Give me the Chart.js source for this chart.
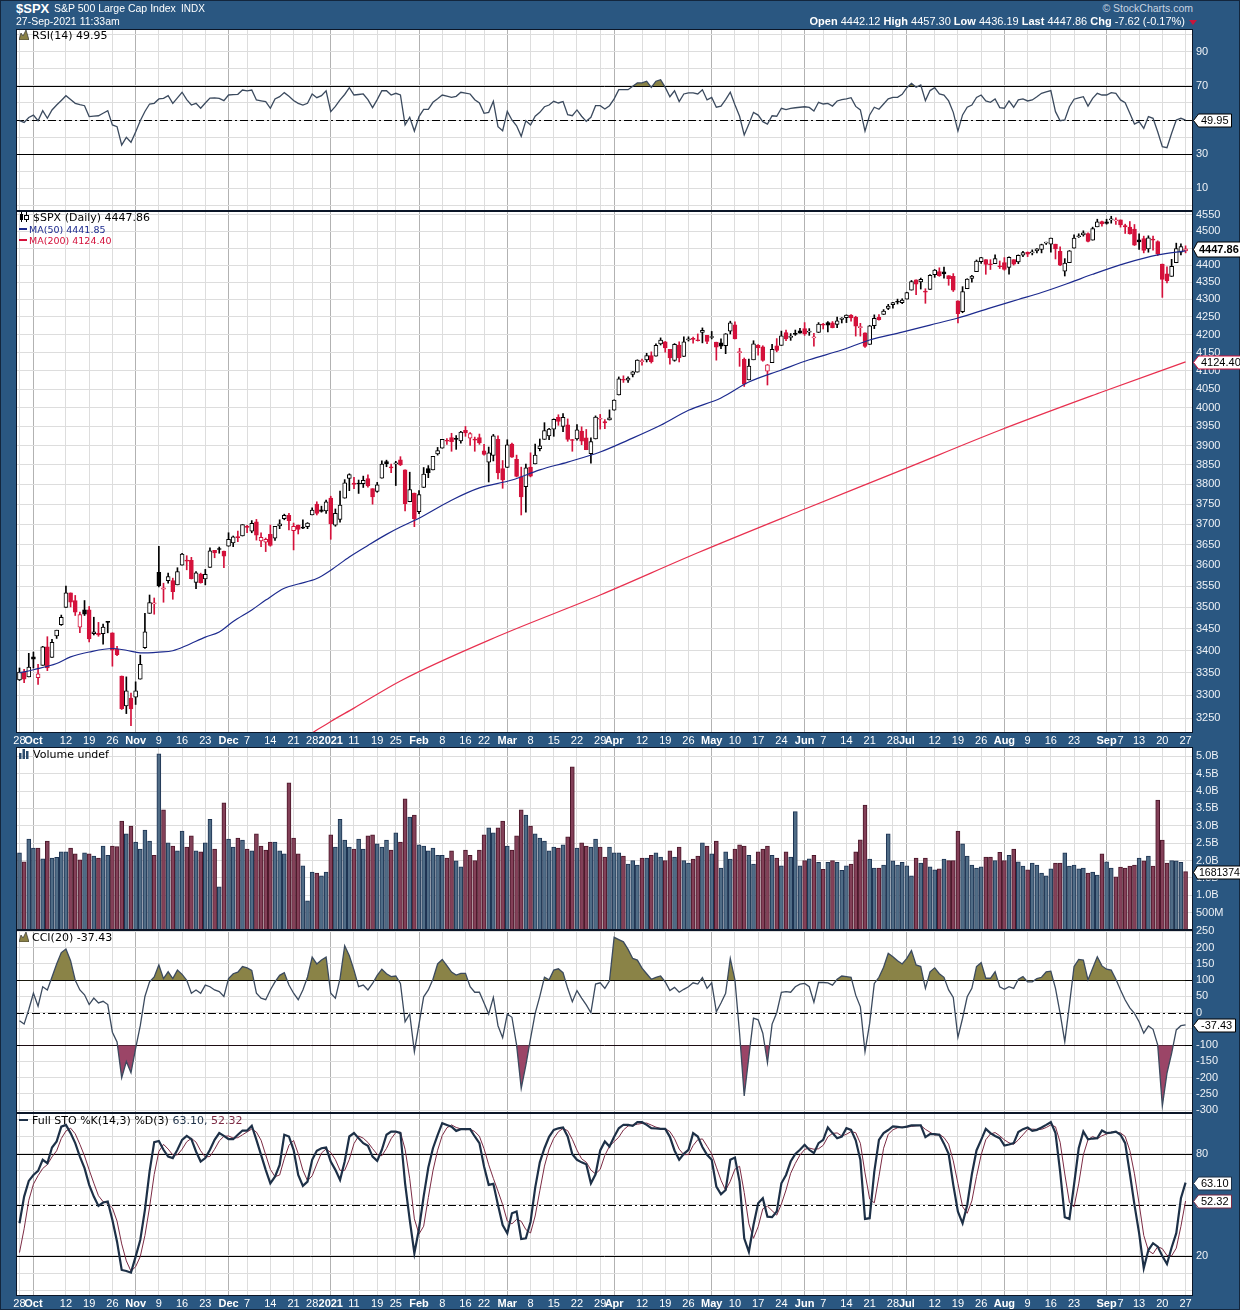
<!DOCTYPE html>
<html>
<head>
<meta charset="utf-8">
<title>$SPX Daily</title>
<script src="https://cdn.jsdelivr.net/npm/chart.js@4.4.1/dist/chart.umd.min.js"></script>
<style>
html, body { margin: 0; padding: 0; }
body { position: relative; width: 1240px; height: 1310px; overflow: hidden; background: #2a5781; font-family: "Liberation Sans", Arial, sans-serif; }
#frame { position: absolute; left: 0; top: 0; width: 1238px; height: 1308px; border: 1px solid #13263d; }
canvas { position: absolute; left: 0; }
.hd { position: absolute; white-space: nowrap; color: #fff; line-height: 1; }
.lg { position: absolute; white-space: nowrap; font: 11px "DejaVu Sans", sans-serif; color: #000; line-height: 11px; }
.lg svg { vertical-align: -1px; margin-right: 3px; }
</style>
</head>
<body>
<div id="frame"></div>
<canvas id="rsiChart" width="1240" height="198" style="top:21px;width:1240px;height:198px"></canvas>
<canvas id="priceChart" width="1240" height="545" style="top:203px;width:1240px;height:545px"></canvas>
<canvas id="volChart" width="1240" height="199" style="top:739px;width:1240px;height:199px"></canvas>
<canvas id="cciChart" width="1240" height="199" style="top:922px;width:1240px;height:199px"></canvas>
<canvas id="stoChart" width="1240" height="205" style="top:1105px;width:1240px;height:205px"></canvas>

<div class="hd" style="left:16px;top:2px;font-weight:bold;font-size:13px">$SPX</div>
<div class="hd" style="left:54px;top:3px;font-size:10.5px">S&amp;P 500 Large Cap Index</div>
<div class="hd" style="left:181px;top:4px;font-size:10px">INDX</div>
<div class="hd" style="left:16px;top:16px;font-size:10.5px">27-Sep-2021 11:33am</div>
<div class="hd" style="right:47px;top:3px;font-size:10.5px;color:#c9d4e0">&copy; StockCharts.com</div>
<div class="hd" style="right:55px;top:16px;font-size:11px"><b>Open</b> 4442.12 <b>High</b> 4457.30 <b>Low</b> 4436.19 <b>Last</b> 4447.86 <b>Chg</b> -7.62 (-0.17%)</div>
<div style="position:absolute;left:1189px;top:20px;width:0;height:0;border-left:4px solid transparent;border-right:4px solid transparent;border-top:5px solid #c8163c"></div>

<div class="lg" style="left:19px;top:30px"><svg width="10" height="10"><polygon points="0,10 2,3 4,6 7,0 10,10" fill="#8a8146" stroke="#333" stroke-width="0.7"/></svg>RSI(14) 49.95</div>
<div class="lg" style="left:19px;top:212px"><svg width="11" height="10"><rect x="2" y="0" width="1" height="10"/><rect x="1" y="2" width="3" height="6"/><rect x="7" y="0" width="1" height="10"/><rect x="5.5" y="3.5" width="4" height="4" fill="#fff" stroke="#000"/></svg>$SPX (Daily) 4447.86</div>
<div class="lg" style="left:19px;top:224px;font-size:9.5px;color:#1c2a8e"><span style="display:inline-block;width:8px;height:2px;background:#1c2a8e;vertical-align:3px;margin-right:2px"></span>MA(50) 4441.85</div>
<div class="lg" style="left:19px;top:235px;font-size:9.5px;color:#d4113b"><span style="display:inline-block;width:8px;height:2px;background:#d4113b;vertical-align:3px;margin-right:2px"></span>MA(200) 4124.40</div>
<div class="lg" style="left:19px;top:749px"><svg width="11" height="10"><rect x="0" y="4" width="2.5" height="6" fill="#2b4a6a"/><rect x="3.5" y="0" width="2.5" height="10" fill="#2b4a6a"/><rect x="7" y="2" width="2.5" height="8" fill="#2b4a6a"/></svg>Volume undef</div>
<div class="lg" style="left:19px;top:932px"><svg width="10" height="10"><polygon points="0,10 2,3 4,6 7,0 10,10" fill="#8a8146" stroke="#333" stroke-width="0.7"/></svg>CCI(20) -37.43</div>
<div class="lg" style="left:19px;top:1115px"><span style="display:inline-block;width:9px;height:2px;background:#1d3047;vertical-align:3px;margin-right:4px"></span>Full STO %K(14,3) %D(3) <span style="color:#1d3047">63.10,</span> <span style="color:#7c2b44">52.32</span></div>

<script>
'use strict';

// x axis: trading-day index 0 = 28 Sep 2020 ... 251 = 27 Sep 2021
const tickIdx = [0, 3, 10, 15, 20, 25, 30, 35, 40, 45, 49, 54, 59, 63, 67, 72, 77, 81, 86, 91, 96, 100, 105, 110, 115, 120, 125, 128, 134, 139, 144, 149, 154, 159, 164, 169, 173, 178, 183, 188, 191, 197, 202, 207, 212, 217, 222, 227, 234, 237, 241, 246, 251];
const tickText = ['28', 'Oct', '12', '19', '26', 'Nov', '9', '16', '23', 'Dec', '7', '14', '21', '28', '2021', '11', '19', '25', 'Feb', '8', '16', '22', 'Mar', '8', '15', '22', '29', 'Apr', '12', '19', '26', 'May', '10', '17', '24', 'Jun', '7', '14', '21', '28', 'Jul', '12', '19', '26', 'Aug', '9', '16', '23', 'Sep', '7', '13', '20', '27'];
const monthIdx = [3, 25, 45, 67, 86, 105, 128, 149, 169, 191, 212, 234];

const opens = [3334,3351,3341,3386,3339,3367,3409,3385,3434,3460,
3500,3534,3516,3454,3494,3494,3439,3440,3439,3465,
3441,3403,3343,3277,3294,3296,3336,3407,3486,3508,
3583,3543,3563,3563,3553,3600,3610,3612,3559,3579,
3567,3595,3636,3639,3634,3646,3654,3668,3671,3695,
3683,3706,3659,3656,3675,3666,3696,3714,3722,3684,
3698,3693,3694,3723,3750,3736,3733,3765,3698,3712,
3765,3815,3803,3802,3802,3815,3789,3782,3816,3858,
3844,3852,3863,3837,3756,3778,3731,3792,3840,3837,
3878,3893,3911,3921,3916,3912,3940,3919,3916,3921,
3886,3857,3874,3916,3840,3843,3904,3864,3819,3794,
3844,3852,3892,3916,3925,3943,3974,3950,3954,3913,
3917,3938,3920,3879,3917,3969,3963,3967,3993,4034,
4076,4074,4090,4096,4125,4130,4142,4140,4174,4180,
4159,4128,4171,4139,4185,4188,4185,4206,4198,4192,
4179,4177,4169,4210,4228,4150,4131,4075,4130,4170,
4166,4099,4122,4169,4170,4206,4192,4201,4211,4217,
4207,4191,4206,4229,4234,4233,4229,4243,4248,4255,
4249,4220,4205,4173,4225,4249,4257,4274,4285,4293,
4291,4301,4327,4357,4351,4321,4329,4372,4381,4380,
4369,4367,4296,4265,4331,4361,4381,4410,4416,4403,
4404,4395,4407,4393,4416,4409,4429,4438,4436,4442,
4446,4465,4462,4462,4441,4382,4407,4450,4484,4490,
4494,4474,4514,4530,4529,4535,4532,4535,4518,4513,
4507,4475,4479,4448,4477,4470,4403,4374,4367,4407,
4438,4442];
const highs = [3361,3358,3394,3397,3369,3410,3432,3426,3447,3482,
3550,3534,3528,3489,3516,3502,3477,3465,3461,3467,
3441,3410,3343,3341,3305,3330,3390,3486,3529,3522,
3646,3557,3581,3569,3594,3629,3623,3619,3585,3581,
3590,3642,3636,3644,3634,3679,3671,3683,3699,3697,
3709,3712,3679,3666,3698,3695,3711,3725,3727,3703,
3698,3711,3704,3741,3756,3745,3760,3770,3738,3783,
3812,3827,3818,3811,3821,3824,3789,3805,3860,3862,
3852,3859,3871,3837,3831,3778,3784,3843,3848,3872,
3895,3916,3918,3932,3926,3937,3950,3934,3922,3930,
3903,3896,3929,3925,3861,3915,3906,3875,3844,3852,
3881,3904,3917,3960,3945,3970,3981,3984,3970,3916,
3955,3949,3942,3920,3978,3982,3968,3994,4021,4083,
4086,4083,4098,4130,4132,4148,4152,4174,4191,4181,
4159,4175,4180,4194,4194,4193,4202,4219,4198,4209,
4179,4188,4203,4238,4236,4162,4135,4132,4183,4172,
4169,4117,4173,4189,4210,4213,4203,4213,4218,4234,
4217,4204,4234,4232,4237,4237,4250,4248,4256,4257,
4252,4232,4205,4226,4256,4257,4271,4286,4292,4301,
4302,4321,4355,4357,4362,4331,4372,4387,4392,4394,
4369,4375,4296,4337,4360,4370,4415,4423,4416,4416,
4430,4412,4422,4424,4416,4430,4441,4439,4445,4449,
4462,4468,4480,4462,4454,4419,4443,4490,4493,4502,
4496,4513,4537,4531,4537,4546,4541,4535,4522,4530,
4521,4493,4486,4487,4486,4472,4403,4395,4417,4465,
4463,4457];
const lows = [3333,3328,3341,3361,3324,3367,3355,3385,3428,3458,
3500,3501,3481,3441,3481,3420,3436,3433,3415,3441,
3365,3389,3269,3260,3234,3280,3336,3405,3486,3484,
3548,3512,3557,3519,3553,3600,3589,3567,3544,3557,
3553,3595,3618,3629,3594,3646,3645,3657,3671,3679,
3679,3661,3645,3633,3646,3660,3689,3711,3686,3637,
3676,3689,3689,3723,3723,3730,3727,3663,3695,3705,
3765,3784,3789,3777,3792,3793,3750,3780,3816,3845,
3830,3797,3848,3733,3756,3694,3726,3792,3817,3837,
3875,3893,3903,3885,3890,3906,3924,3900,3885,3903,
3875,3806,3860,3814,3790,3843,3869,3819,3723,3730,
3819,3852,3886,3916,3915,3924,3953,3936,3911,3885,
3914,3902,3889,3854,3917,3943,3944,3967,3993,4034,
4068,4068,4083,4096,4115,4124,4121,4140,4171,4151,
4118,4126,4124,4139,4182,4176,4182,4177,4175,4188,
4129,4161,4147,4202,4188,4112,4057,4075,4130,4143,
4126,4061,4122,4152,4170,4183,4184,4198,4204,4198,
4198,4168,4206,4216,4208,4219,4220,4233,4234,4238,
4196,4196,4164,4173,4217,4241,4257,4271,4275,4287,
4288,4301,4327,4314,4330,4289,4329,4364,4367,4362,
4341,4323,4233,4262,4331,4350,4381,4405,4373,4387,
4404,4390,4385,4373,4400,4404,4425,4425,4430,4436,
4436,4461,4438,4418,4398,4368,4407,4450,4482,4486,
4469,4474,4514,4516,4522,4525,4521,4513,4494,4492,
4458,4446,4436,4438,4444,4428,4306,4348,4367,4407,
4430,4436];
const closes = [3352,3336,3363,3381,3348,3409,3361,3419,3447,3477,
3534,3512,3489,3483,3484,3427,3443,3436,3454,3465,
3401,3391,3271,3310,3270,3310,3369,3443,3511,3509,
3551,3546,3573,3537,3585,3627,3610,3568,3582,3558,
3578,3635,3630,3638,3622,3663,3669,3667,3699,3692,
3702,3673,3668,3663,3648,3695,3701,3722,3709,3695,
3687,3690,3703,3735,3727,3732,3756,3701,3727,3748,
3804,3825,3800,3801,3810,3796,3768,3799,3852,3853,
3842,3855,3850,3751,3787,3714,3774,3826,3830,3872,
3887,3916,3911,3910,3916,3935,3933,3931,3914,3907,
3877,3881,3925,3829,3811,3902,3870,3820,3768,3842,
3821,3875,3899,3939,3943,3969,3963,3974,3916,3913,
3941,3911,3889,3910,3975,3971,3959,3973,4020,4078,
4074,4080,4097,4129,4128,4142,4125,4170,4185,4163,
4135,4173,4135,4180,4188,4187,4183,4212,4181,4193,
4165,4168,4202,4233,4188,4152,4063,4113,4174,4163,
4128,4116,4159,4156,4197,4188,4196,4201,4204,4202,
4208,4193,4230,4227,4227,4220,4239,4247,4255,4247,
4224,4222,4167,4225,4246,4242,4267,4281,4291,4292,
4298,4320,4352,4344,4358,4321,4370,4385,4369,4374,
4360,4327,4259,4323,4359,4368,4412,4422,4402,4401,
4419,4395,4387,4423,4403,4429,4437,4432,4437,4448,
4461,4468,4480,4448,4400,4406,4442,4480,4486,4496,
4470,4509,4529,4523,4524,4537,4535,4520,4514,4493,
4459,4469,4443,4481,4474,4433,4358,4354,4396,4449,
4455,4448];

// moving averages (index, value)
const ma50Idx = [0, 3, 8, 11, 15, 20, 23, 26, 30, 33, 36, 40, 43, 46, 50, 53, 57, 60, 64, 67, 71, 75, 79, 82, 86, 93, 99, 106, 112, 118, 125, 131, 138, 144, 151, 157, 164, 170, 177, 183, 190, 196, 202, 209, 215, 220, 226, 231, 238, 245, 251];
const ma50 = [3350, 3357, 3371, 3386, 3397, 3405, 3401, 3395, 3397, 3400, 3412, 3431, 3443, 3467, 3494, 3517, 3545, 3555, 3568, 3588, 3620, 3648, 3675, 3693, 3715, 3760, 3791, 3811, 3837, 3857, 3883, 3914, 3953, 3993, 4026, 4069, 4102, 4130, 4157, 4185, 4207, 4227, 4247, 4276, 4300, 4320, 4348, 4373, 4405, 4430, 4441.85];
const ma200Idx = [63, 67, 72, 82, 103, 125, 146, 168, 190, 211, 233, 251];
const ma200 = [3218, 3243, 3272, 3332, 3433, 3529, 3630, 3733, 3837, 3940, 4042, 4124.40];

// volume in billions
const volume = [2.22,1.96,2.62,2.36,2.36,2.05,2.56,2.07,2.09,2.25,
2.25,2.36,2.19,2.02,2.22,2.19,2.13,2.07,2.42,2.15,
2.42,2.40,3.14,2.77,2.99,2.53,2.33,2.88,2.56,2.15,
5.07,3.46,2.51,2.42,2.28,2.85,2.39,2.71,2.28,2.25,
2.51,3.19,2.33,1.24,3.66,2.62,2.39,2.65,2.59,2.33,
2.28,2.77,2.42,2.30,2.53,2.53,2.28,2.19,4.24,2.65,
2.19,1.85,0.84,1.67,1.64,1.56,1.67,2.74,2.39,3.19,
2.59,2.39,2.33,2.62,2.33,2.71,2.74,2.48,2.39,2.59,
2.30,2.80,2.53,3.78,3.25,3.31,2.45,2.42,2.28,2.36,
2.15,2.15,2.07,2.28,1.99,1.82,2.30,2.15,2.00,2.30,
2.74,2.94,2.80,2.94,3.14,2.42,2.30,2.71,3.46,3.31,
2.99,2.77,2.65,2.56,2.28,2.39,2.36,2.45,2.68,4.70,
2.36,2.51,2.42,2.39,2.62,2.39,2.10,2.39,2.22,2.22,
2.13,1.90,2.00,1.87,2.07,2.07,2.15,2.22,2.10,2.00,
2.28,2.10,2.39,2.00,1.93,2.04,2.13,2.51,2.42,2.19,
2.56,1.78,2.25,2.04,2.33,2.45,2.42,2.15,1.90,2.25,
2.33,2.42,2.15,2.07,1.85,2.25,2.10,3.41,1.85,2.00,
2.05,2.15,1.95,1.75,1.95,2.00,1.95,1.72,1.85,1.90,
2.25,2.60,3.60,2.04,1.78,1.78,1.87,2.77,1.99,1.87,
1.95,1.85,1.56,2.07,1.93,2.07,1.82,1.73,1.76,2.04,
2.00,2.00,2.85,2.48,2.13,1.87,1.78,1.82,2.10,2.10,
2.00,2.24,2.00,2.15,2.33,1.96,1.84,1.73,1.93,1.87,
1.64,1.56,1.76,1.93,1.93,2.22,1.84,1.87,1.76,1.78,
1.64,1.67,1.58,2.19,1.96,1.78,1.53,1.81,1.78,1.84,
1.87,2.07,1.99,2.13,1.84,3.74,2.59,1.93,2.00,1.99,
1.95,1.681374];

const rsi = [49.6,48.6,51.5,52.9,49.6,55.5,51,55.9,58.8,61.5,
64.3,62,59.8,59,58.4,52,52.3,52.5,54,55.5,
47.1,46.1,35.3,39.8,36.9,43,49.6,55,59.4,59.8,
62.4,62.7,64.3,59.8,63,66.3,62,58.8,59.8,56.9,
60,62.9,63,62.7,61.4,64.7,64.9,65.1,67.6,67.1,
67.6,61.8,61.3,60.8,56.9,62.4,63.7,66.1,64,61.5,
59.8,58.8,59.8,65.3,63.1,64.3,67.2,54.9,58,61.8,
65,69,64.7,65,65.3,62,57.3,62,67.2,67.2,
64.7,65.7,64.7,47.1,51.6,43.5,52,56.3,56.3,60.4,
62.5,64.7,64,63.3,63.9,66.3,65.8,65.3,61.9,60,
53.9,54.5,61,46.1,43.7,55.1,50,46.6,40.4,49.6,
47.1,52.2,54.5,57.8,58.8,61,60,60.8,53.1,52.5,
55.9,52.2,49.2,51.6,58.4,58.4,56.5,58.4,62.4,67.8,
67.8,67.8,69.8,71.8,71.8,72.8,69.2,72.8,73.7,69.2,
63.7,67.2,60.8,65.3,65.9,65.9,65.3,67.8,61.8,63.3,
57.5,58.1,62,66.3,59,52.2,41.2,47.6,54.5,52.9,
49,47.6,52.5,52.2,56.9,56.1,56.8,57.2,57.5,57.8,
57.4,55.3,60.4,59.4,59.8,58.2,61.2,62,62.4,63.1,
58,55.9,43.5,53,57.5,56.3,59.4,62.4,63.3,63.3,
65.1,69,71.6,69.2,70.6,61.4,67.3,69,65.3,64.7,
61.2,54.5,43.5,53,57.5,58.8,63.3,64.7,61.2,60.4,
62.4,57.3,56.9,61.2,57.5,61.8,62.4,61.2,61.8,63.7,
65.7,66.5,67.3,54.9,49.6,50,57.8,62.2,63,63.7,
58.2,62.7,65.7,64.7,64.7,66.1,65.7,61.8,60.2,53.9,
47.6,49,45.1,52,51,43.1,34.3,33.7,42.2,50,
51,49.95];

const cci = [-25,-35,10,60,20,80,70,110,150,185,
196,160,100,70,55,25,45,30,35,25,
-60,-90,-200,-150,-185,-110,-40,50,95,110,
147,105,126,105,131,118,100,60,70,60,
85,80,70,65,50,105,120,125,142,138,
130,60,45,40,70,95,115,123,85,60,
40,70,110,171,150,162,171,60,45,105,
206,175,131,80,85,70,90,115,134,120,
111,113,90,-28,-4,-120,-35,49,70,103,
150,164,145,125,116,121,121,80,63,63,
30,-4,47,-40,-77,-4,-14,-99,-233,-161,
-80,-2,50,109,101,131,135,123,75,34,
68,45,24,0,88,92,75,98,232,225,
218,195,167,162,137,120,103,109,113,95,
68,78,63,72,80,92,88,108,75,92,
3,30,60,167,101,-63,-256,-135,-17,-22,
-63,-154,-35,0,63,65,63,80,88,90,
80,32,93,93,92,85,103,113,111,109,
54,18,-120,-33,90,109,140,183,172,160,
150,167,191,147,142,75,126,138,120,109,
70,47,-76,-17,49,75,142,154,106,106,
126,80,72,80,75,103,111,95,95,105,
109,126,128,75,-2,-89,24,142,164,162,
101,137,172,144,134,131,103,70,39,15,
-2,-28,-63,-41,-51,-99,-287,-186,-125,-53,
-40,-37.43];

const stoK = [39.2,54.9,64.1,67.6,70,76.5,74.5,83.7,87.3,96,
97,92.2,86.3,78.4,71.6,61.8,54.9,49.4,51.4,52,
41.2,28.4,11.8,11.2,10.2,19.6,29.4,47.1,69.6,86.9,
87.6,82.4,78.4,77.5,82.4,88.2,90.6,88.6,81.4,75.5,
77.5,82.4,88.2,92.2,90.6,88.6,88.6,91.2,93.7,93.7,
96.5,88.2,79.4,70.6,62.7,66.6,73.5,91.2,90.2,82.4,
67.6,61.2,63.7,76.5,81.8,83.3,83.7,75.5,70.6,64.7,
75.5,90.2,92.2,89.2,86.3,84.7,78.4,75.9,82.4,91.2,
93.1,93.1,92.2,62.7,41.2,21.6,36,55,72,83.3,
91,98,97,96,93.5,94.5,94.5,94.5,90.2,86.3,
72.6,61.8,62.4,50,38.2,33.4,45.1,46.1,30,30.4,
40,60,75,83.3,90,94.1,95,95.5,90.2,79.8,
76.5,75,73.9,62.7,68,82,87.3,84.3,90,95,
97.1,97,96.5,98.6,98.6,97,95.1,94.9,94.7,94.7,
90,82,76.5,80,82.4,92.2,90.2,84,79.4,76.5,
60.8,56.3,58.8,76.5,77.8,63.7,30.4,22.5,38.2,51,
53.9,43.1,42.8,46.1,62.7,67.6,75.5,80,82.4,85.3,
82.4,80.4,86.3,88.2,95.5,92.2,89.2,90.2,95.1,94.1,
88,76.5,41.8,42.2,69.6,88.2,92.2,94,96.1,95.8,
95.5,96,96.7,96.7,96.7,89.8,91.6,91.6,91.2,86,
80,61.8,46,39.2,50,68,82,88.2,94.7,92.2,
90.5,89.2,84.9,85.5,86.3,92.8,94.5,95.5,93.5,94.1,
95.5,97,98.6,92.2,69.6,42.8,41.8,62,83.3,93.1,
88.6,89,89.2,93.7,92.2,92.5,93.1,91.2,86.3,68.6,
50,33.4,12.8,23.5,27.5,25.5,20,15.3,25,33.4,
53.9,63.1];

const stoD = [22,36,52.7,62.2,67.2,71.4,73.7,78.2,81.8,89,
93.4,95.1,91.8,85.6,78.8,70.6,62.8,55.4,51.9,50.9,
48.2,40.5,27.1,17.1,11.1,13.7,19.7,32,48.7,67.9,
81.4,85.6,82.8,79.4,79.4,82.7,87.1,89.1,86.9,81.8,
78.1,78.5,82.7,87.6,90.3,90.5,89.3,89.5,91.2,92.9,
94.6,92.8,88,79.4,70.9,66.6,67.6,77.1,85,87.9,
80.1,70.4,64.2,67.1,74,80.5,82.9,80.8,76.6,70.3,
70.3,76.8,86,90.5,89.2,86.7,83.1,79.7,78.9,83.2,
88.9,92.5,92.8,82.7,65.4,41.8,32.9,37.5,54.3,70.1,
82.1,90.8,95.3,97,95.5,94.7,94.2,94.5,93.1,90.3,
83,73.6,65.6,58.1,50.2,40.5,38.9,41.5,40.4,35.5,
33.5,43.5,58.3,72.8,82.8,89.1,93,94.9,93.6,88.5,
82.2,77.1,75.1,70.5,68.2,70.9,79.1,84.5,87.2,89.8,
94,96.4,96.9,97.4,97.9,98.1,96.9,95.7,94.9,94.8,
93.1,88.9,82.8,79.5,79.6,84.9,88.3,88.8,84.5,80,
72.2,64.5,58.6,63.9,71,72.7,57.3,38.9,30.4,37.2,
47.7,49.3,46.6,44,50.5,58.8,68.6,74.4,79.3,82.6,
83.4,82.7,83,85,90,92,92.3,90.5,91.5,93.1,
92.4,86.2,68.8,53.5,51.2,66.7,83.3,91.5,94.1,95.3,
95.8,95.8,96.1,96.5,96.7,94.4,92.7,91,91.5,89.6,
85.7,75.9,62.6,49,45.1,52.4,66.7,79.4,88.3,91.7,
92.5,90.6,88.2,86.5,85.6,88.2,91.2,94.3,94.5,94.4,
94.4,95.5,97,95.9,86.8,68.2,51.4,48.9,62.4,79.5,
88.3,90.2,88.9,90.6,91.7,92.8,92.6,92.3,90.2,82,
68.3,50.7,32.1,23.2,21.3,25.5,24.3,20.3,20.1,24.6,
37.4,52.32];

// y ticks
const rsiTicks = [0, 10, 20, 30, 40, 50, 60, 70, 80, 90, 100];
const rsiLabels = [10, 30, 50, 70, 90];
const priceTicks = [3250, 3300, 3350, 3400, 3450, 3500, 3550, 3600, 3650, 3700, 3750, 3800, 3850, 3900, 3950, 4000, 4050, 4100, 4150, 4200, 4250, 4300, 4350, 4400, 4450, 4500, 4550];
const volTicks = [0.5, 1, 1.5, 2, 2.5, 3, 3.5, 4, 4.5, 5];
const volLabels = ['500M', '1.0B', '1.5B', '2.0B', '2.5B', '3.0B', '3.5B', '4.0B', '4.5B', '5.0B'];
const cciTicks = [-300, -250, -200, -150, -100, -50, 0, 50, 100, 150, 200, 250];
const stoTicks = [0, 10, 20, 30, 40, 50, 60, 70, 80, 90, 100];
const stoLabels = [20, 50, 80];

const RED = '#d4113b';
const LINE = '#3b4a5e';
const OLIVE = '#8a8347';
const PLUM = '#9b4567';
const X_MIN = -0.75, X_MAX = 252.6;

const panelInfo = {
   rsiChart: {
      levels: [{v: 70}, {v: 30}, {v: 50, dash: true}],
      tags: [{v: rsi[rsi.length - 1], text: '49.95'}]
   },
   priceChart: {
      levels: [],
      tags: [{v: ma200[ma200.length - 1], text: '4124.40', border: RED},
         {v: closes[closes.length - 1] - 0.14, text: '4447.86', bold: true, size: 11, tight: true}]
   },
   volChart: {
      levels: [],
      tags: [{v: volume[volume.length - 1], text: '1681374', size: 10.5, tight: true}]
   },
   cciChart: {
      levels: [{v: 100}, {v: -100}, {v: 0, dash: true}],
      tags: [{v: cci[cci.length - 1], text: '-37.43'}]
   },
   stoChart: {
      levels: [{v: 80}, {v: 20}, {v: 50, dash: true}],
      tags: [{v: stoD[stoD.length - 1], text: '52.32', border: '#7c2b44'}, {v: stoK[stoK.length - 1], text: '63.10', border: '#1d3047'}]
   }
};

const panelPlugin = {
   id: 'panel',
   beforeDraw(chart) {
      let a = chart.chartArea, g = chart.ctx;
      g.save();
      g.fillStyle = '#ffffff';
      g.fillRect(a.left, a.top, a.right - a.left, a.bottom - a.top);
      g.restore();
   },
   beforeDatasetsDraw(chart) {
      let info = panelInfo[chart.canvas.id];
      let a = chart.chartArea, g = chart.ctx, y = chart.scales.y;
      g.save();
      g.strokeStyle = '#000000';
      g.lineWidth = 1;
      for (let lv of info.levels) {
         let py = Math.round(y.getPixelForValue(lv.v)) + 0.5;
         g.setLineDash(lv.dash ? [8, 3, 2, 3] : []);
         g.beginPath();
         g.moveTo(a.left, py);
         g.lineTo(a.right, py);
         g.stroke();
      }
      g.restore();
   },
   afterDraw(chart) {
      let info = panelInfo[chart.canvas.id];
      let a = chart.chartArea, g = chart.ctx, y = chart.scales.y;
      g.save();
      g.strokeStyle = '#0b1628';
      g.lineWidth = 1;
      g.strokeRect(a.left + 0.5, a.top + 0.5, a.right - a.left - 1, a.bottom - a.top - 1);
      for (let t of info.tags) {
         let py = Math.round(y.getPixelForValue(t.v)) + 0.5;
         g.font = (t.bold ? 'bold ' : '') + (t.size || 11) + 'px "Liberation Sans", Arial, sans-serif';
         let arrow = t.tight ? 4 : 5;
         let pad = t.tight ? 1.5 : 2.5;
         let w = Math.ceil(g.measureText(t.text).width) + pad * 2;
         let h = t.bold ? 15 : 13;
         let x0 = a.right + 0.5;
         g.beginPath();
         g.moveTo(x0, py);
         g.lineTo(x0 + arrow, py - h / 2);
         g.lineTo(x0 + arrow + w, py - h / 2);
         g.lineTo(x0 + arrow + w, py + h / 2);
         g.lineTo(x0 + arrow, py + h / 2);
         g.closePath();
         g.fillStyle = '#ffffff';
         g.fill();
         g.strokeStyle = t.border || '#000000';
         g.setLineDash([]);
         g.stroke();
         g.fillStyle = '#000000';
         g.textAlign = 'left';
         g.textBaseline = 'middle';
         g.fillText(t.text, x0 + arrow + pad, py + 0.5);
      }
      g.restore();
   }
};
Chart.register(panelPlugin);

function xAxis(labelHeight) {
   return {
      type: 'linear',
      min: X_MIN,
      max: X_MAX,
      offset: false,
      afterBuildTicks: s => { s.ticks = tickIdx.map(v => ({value: v})); },
      afterFit: s => { s.height = labelHeight; s.paddingLeft = 0; s.paddingRight = 0; },
      border: {display: false},
      grid: {
         offset: false,
         drawTicks: false,
         color: c => (c.tick && monthIdx.includes(c.tick.value)) ? '#b2b2b2' : '#dddddd'
      },
      ticks: {
         display: labelHeight > 0,
         autoSkip: false,
         maxRotation: 0,
         minRotation: 0,
         padding: 1,
         color: '#ffffff',
         font: c => ({family: '"Liberation Sans", Arial, sans-serif', size: 11, weight: (c.tick && monthIdx.includes(c.tick.value)) ? 'bold' : 'normal'}),
         callback: v => tickText[tickIdx.indexOf(v)]
      }
   };
}

function yAxis(type, min, max, ticks, label) {
   return {
      type,
      min,
      max,
      position: 'right',
      afterBuildTicks: s => { s.ticks = ticks.map(v => ({value: v})); },
      afterFit: s => { s.width = 47; s.paddingTop = 0; s.paddingBottom = 0; },
      border: {display: false},
      grid: {drawTicks: false, color: '#dddddd'},
      ticks: {
         autoSkip: false,
         padding: 3,
         color: '#eef2f7',
         font: {family: '"Liberation Sans", Arial, sans-serif', size: 11},
         callback: label
      }
   };
}

function options(xLabelHeight, y) {
   return {
      responsive: false,
      animation: false,
      events: [],
      layout: {padding: {left: 16, right: 0, top: 8, bottom: xLabelHeight > 0 ? 0 : 8}},
      scales: {x: xAxis(xLabelHeight), y},
      plugins: {legend: {display: false}, tooltip: {enabled: false}}
   };
}

function points(values) {
   return values.map((v, i) => ({x: i, y: v}));
}

// RSI panel
new Chart(document.getElementById('rsiChart'), {
   type: 'line',
   data: {
      datasets: [
         {data: points(rsi), borderColor: LINE, borderWidth: 1.3, pointRadius: 0, tension: 0,
            fill: {target: {value: 70}, above: OLIVE, below: 'rgba(0,0,0,0)'}},
         {data: points(rsi), borderWidth: 0, borderColor: 'rgba(0,0,0,0)', pointRadius: 0, tension: 0,
            fill: {target: {value: 30}, above: 'rgba(0,0,0,0)', below: PLUM}}
      ]
   },
   options: options(0, yAxis('linear', -3.5, 103.5, rsiTicks, v => rsiLabels.includes(v) ? String(v) : ''))
});

// price panel
let candleColor = closes.map((c, i) => (i > 0 && c < closes[i - 1]) ? RED : '#000000');
let bodyFill = closes.map((c, i) => c > opens[i] ? '#ffffff' : candleColor[i]);

new Chart(document.getElementById('priceChart'), {
   type: 'bar',
   data: {
      datasets: [
         {type: 'line', data: ma50Idx.map((x, k) => ({x, y: ma50[k]})), borderColor: '#1c2a8e', borderWidth: 1.2,
            pointRadius: 0, cubicInterpolationMode: 'monotone', order: 0},
         {type: 'line', data: ma200Idx.map((x, k) => ({x, y: ma200[k]})), borderColor: '#e8304f', borderWidth: 1.2,
            pointRadius: 0, cubicInterpolationMode: 'monotone', order: 0},
         {data: closes.map((c, i) => ({x: i, y: [Math.min(opens[i], c), Math.max(opens[i], c)]})),
            backgroundColor: bodyFill, borderColor: candleColor, borderWidth: 1, borderSkipped: false,
            barThickness: 4, minBarLength: 1, grouped: false, order: 1},
         {data: closes.map((c, i) => ({x: i, y: [lows[i], highs[i]]})),
            backgroundColor: candleColor, borderWidth: 0, barThickness: 1, grouped: false, order: 2}
      ]
   },
   options: options(15, yAxis('logarithmic', 3218, 4562, priceTicks, v => String(v)))
});

// volume panel
let volUp = closes.map((c, i) => i === 0 || c >= closes[i - 1]);
new Chart(document.getElementById('volChart'), {
   type: 'bar',
   data: {
      datasets: [
         {data: points(volume),
            backgroundColor: volUp.map(u => u ? '#506c86' : '#834058'),
            borderColor: volUp.map(u => u ? '#1d3352' : '#4b1629'),
            borderWidth: 1, borderSkipped: false, barThickness: 4, grouped: false}
      ]
   },
   options: options(0, yAxis('linear', 0, 5.27, volTicks, v => volLabels[volTicks.indexOf(v)]))
});

// CCI panel
new Chart(document.getElementById('cciChart'), {
   type: 'line',
   data: {
      datasets: [
         {data: points(cci), borderColor: LINE, borderWidth: 1.3, pointRadius: 0, tension: 0,
            fill: {target: {value: 100}, above: OLIVE, below: 'rgba(0,0,0,0)'}},
         {data: points(cci), borderWidth: 0, borderColor: 'rgba(0,0,0,0)', pointRadius: 0, tension: 0,
            fill: {target: {value: -100}, above: 'rgba(0,0,0,0)', below: PLUM}}
      ]
   },
   options: options(0, yAxis('linear', -308.6, 254.5, cciTicks, v => String(v)))
});

// full stochastics panel
new Chart(document.getElementById('stoChart'), {
   type: 'line',
   data: {
      datasets: [
         {data: points(stoK), borderColor: '#1d3047', borderWidth: 2.2, pointRadius: 0, tension: 0, order: 0},
         {data: points(stoD), borderColor: '#7c2b44', borderWidth: 1, pointRadius: 0, tension: 0, order: 1}
      ]
   },
   options: options(14, yAxis('linear', -3.5, 104, stoTicks, v => stoLabels.includes(v) ? String(v) : ''))
});
</script>
</body>
</html>
